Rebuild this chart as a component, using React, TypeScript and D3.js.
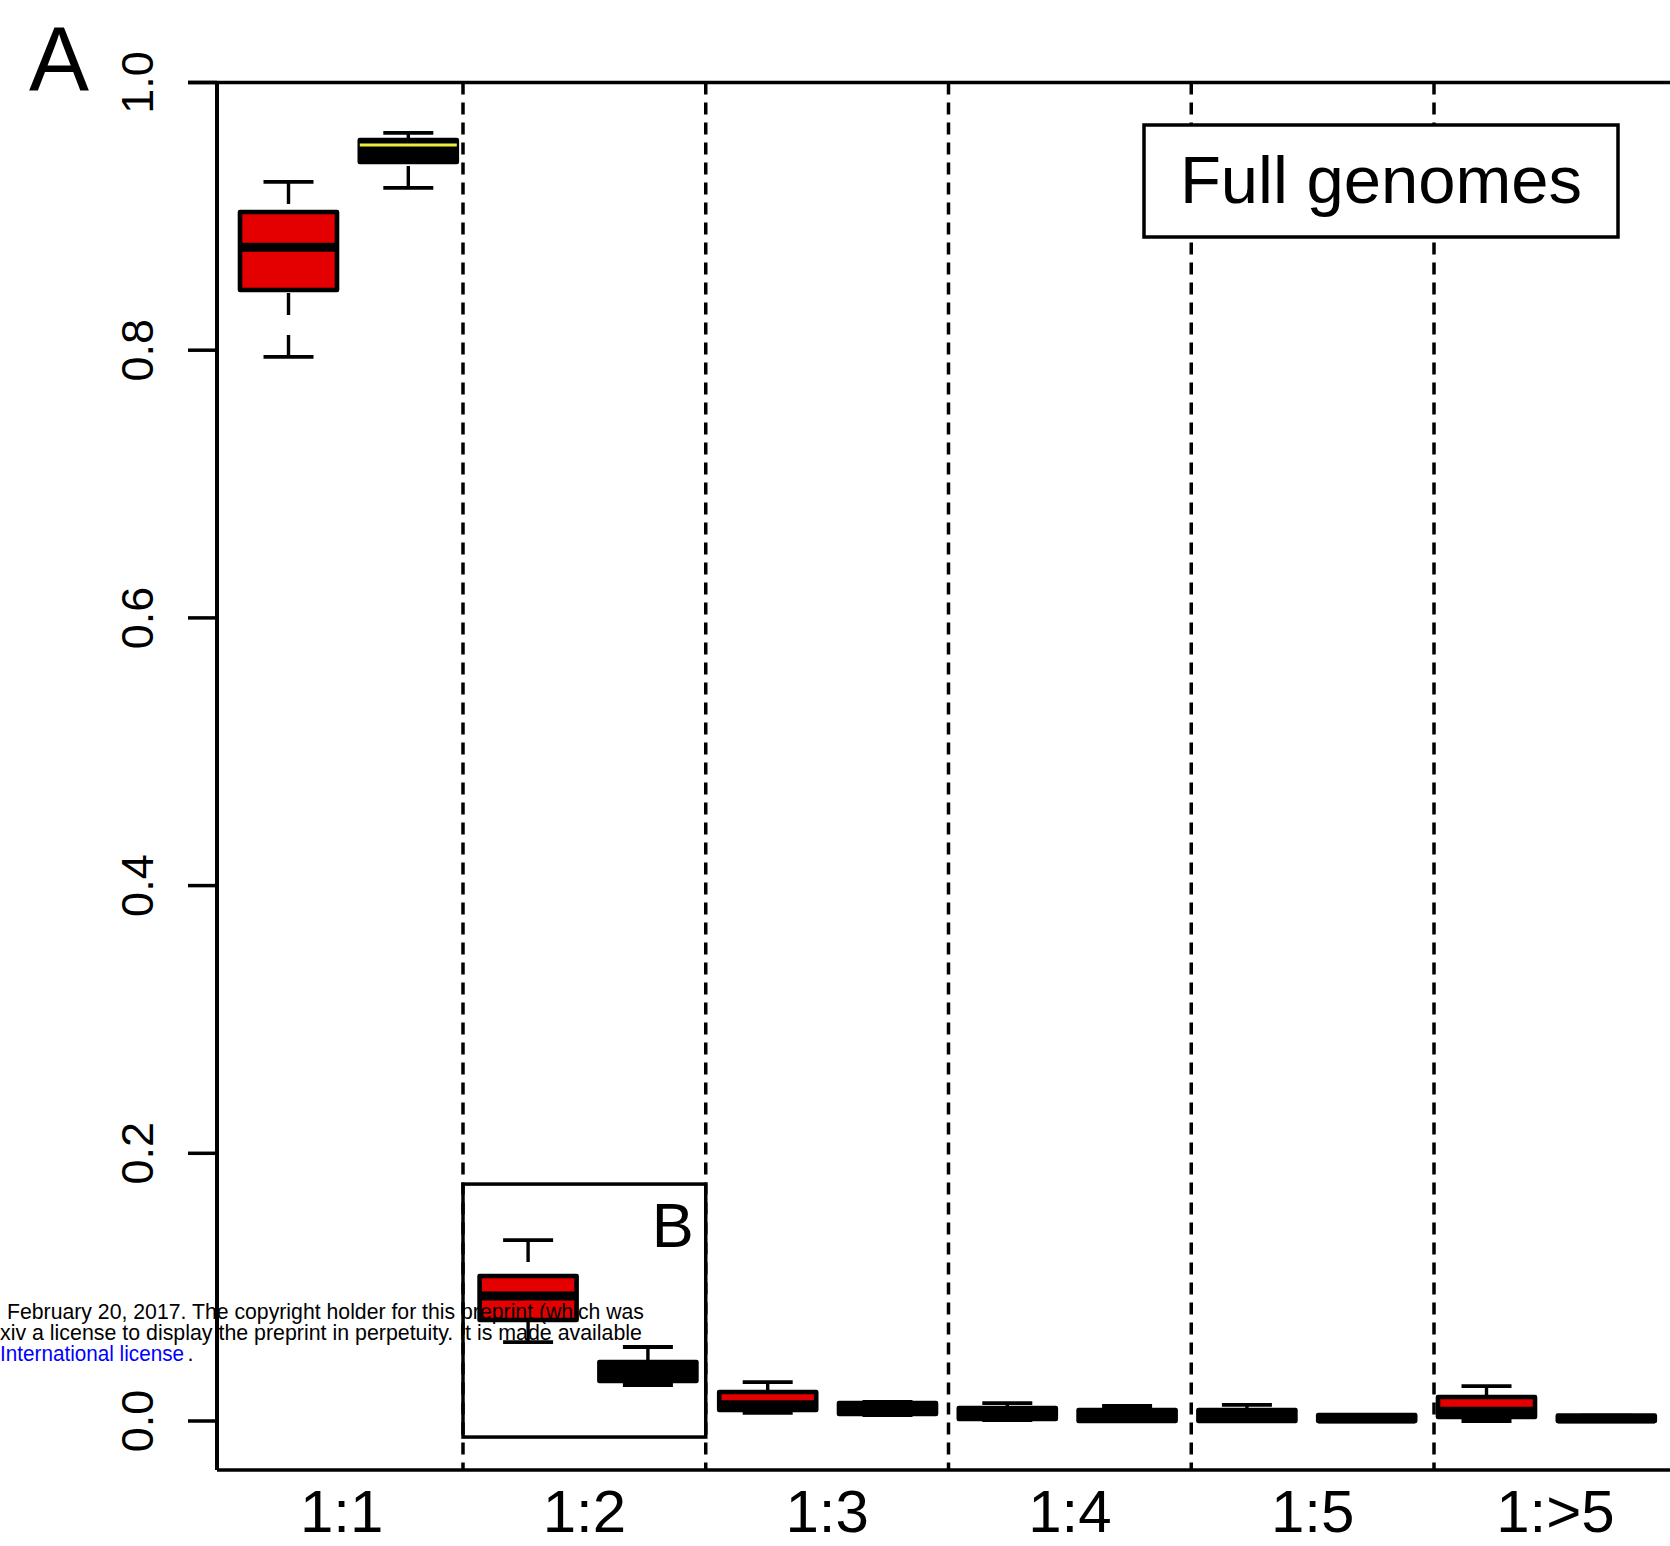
import React from "react";
import * as d3 from "d3";

// ratio classes on the x axis
const categories = ["1:1", "1:2", "1:3", "1:4", "1:5", "1:>5"];

// first box of each pair (red)
const redLow = [0.795, 0.059, 0.006, 0.0007, 0, 0];
const redQ1 = [0.845, 0.0755, 0.0082, 0.0015, 0, 0.003];
const redMedian = [0.877, 0.0934, 0.0122, 0.0052, 0.0037, 0.0072];
const redQ3 = [0.9033, 0.1083, 0.0217, 0.0097, 0.0082, 0.0179];
const redHigh = [0.9257, 0.1352, 0.0291, 0.0134, 0.012, 0.0261];

// second box of each pair (black)
const blackLow = [0.9212, 0.0269, 0.0045, 0, 0, 0];
const blackQ1 = [0.9406, 0.0299, 0.0052, 0, 0, 0];
const blackMedian = [0.9533, 0.0366, 0.009, 0.0037, 0.0015, 0.0015];
const blackQ3 = [0.957, 0.0441, 0.0134, 0.0082, 0.0045, 0.004];
const blackHigh = [0.9623, 0.0553, 0.0142, 0.0112, 0.0045, 0.004];

const yTicks = [0, 0.2, 0.4, 0.6, 0.8, 1.0];

// inset box "B" around the 1:2 class
const insetTop = 0.177;
const insetBottom = -0.012;

const footerLines = [
  "February 20, 2017. The copyright holder for this preprint (which was",
  "xiv a license to display the preprint in perpetuity. It is made available",
];
const footerLink = "International license";

const W = 1670;
const H = 1546;
const FONT = "'Liberation Sans', Arial, Helvetica, sans-serif";
const RED = "#e40000";
const YELLOW = "#eeee36";

export default function App() {
  const y = d3.scaleLinear().domain([0, 1]).range([1421, 82.5]);
  // box positions 1..12 (two boxes per class)
  const xPos = d3.scaleLinear().domain([1, 12]).range([288.5, 1606.3]);
  const band = d3.scaleBand().domain(categories).range([220.25, 1676.75]).padding(0);

  const left = 217;
  const top = y(1);
  const bottom = 1470;
  const boxW = 97;
  const capW = 50;

  const boxes = categories.flatMap((c, i) => [
    { key: c + "r", p: 2 * i + 1, low: redLow[i], q1: redQ1[i], med: redMedian[i], q3: redQ3[i], high: redHigh[i], fill: RED, medCol: "#000", medW: 9 },
    { key: c + "b", p: 2 * i + 2, low: blackLow[i], q1: blackQ1[i], med: blackMedian[i], q3: blackQ3[i], high: blackHigh[i], fill: "#000", medCol: i === 0 ? YELLOW : "#000", medW: i === 0 ? 3 : 9 },
  ]);

  return (
    <div style={{ position: "absolute", left: 0, top: 0 }}>
      <svg width={W} height={H} style={{ display: "block", background: "#fff" }} fontFamily={FONT}>
        {/* dashed class separators */}
        {categories.slice(1).map((c) => (
          <line key={"sep" + c} x1={band(c)} x2={band(c)} y1={top} y2={bottom}
            stroke="#000" strokeWidth={3.5} strokeDasharray="12 8" />
        ))}

        {/* boxes */}
        {boxes.map((b) => {
          const cx = xPos(b.p);
          return (
            <g key={b.key}>
              <line x1={cx} x2={cx} y1={y(b.high)} y2={y(b.q3)} stroke="#000" strokeWidth={3.4} strokeDasharray="22 20" />
              <line x1={cx} x2={cx} y1={y(b.low)} y2={y(b.q1)} stroke="#000" strokeWidth={3.4} strokeDasharray="22 20" />
              <line x1={cx - capW / 2} x2={cx + capW / 2} y1={y(b.high)} y2={y(b.high)} stroke="#000" strokeWidth={3.8} />
              <line x1={cx - capW / 2} x2={cx + capW / 2} y1={y(b.low)} y2={y(b.low)} stroke="#000" strokeWidth={3.8} />
              <rect x={cx - boxW / 2} width={boxW} y={y(b.q3)} height={Math.max(0.5, y(b.q1) - y(b.q3))}
                fill={b.fill} stroke="#000" strokeWidth={4.6} strokeLinejoin="round" />
              <line x1={cx - boxW / 2} x2={cx + boxW / 2} y1={y(b.med)} y2={y(b.med)} stroke={b.medCol} strokeWidth={b.medW} />
            </g>
          );
        })}

        {/* inset B box */}
        <rect x={band("1:2")} width={band.bandwidth()} y={y(insetTop)} height={y(insetBottom) - y(insetTop)}
          fill="none" stroke="#000" strokeWidth={3.5} />
        <text x={(band("1:2") as number) + band.bandwidth() - 12} y={1247} textAnchor="end" fontSize={63}>B</text>

        {/* axes frame */}
        <line x1={188} x2={W} y1={top} y2={top} stroke="#000" strokeWidth={3.5} />
        <line x1={left} x2={W} y1={bottom} y2={bottom} stroke="#000" strokeWidth={3.5} />
        <line x1={left} x2={left} y1={top} y2={bottom} stroke="#000" strokeWidth={4} />

        {/* y ticks and labels */}
        {yTicks.map((t) => (
          <g key={"yt" + t}>
            <line x1={188} x2={left} y1={y(t)} y2={y(t)} stroke="#000" strokeWidth={3.5} />
            <text x={153} y={y(t)} fontSize={45} textAnchor="middle"
              transform={`rotate(-90, 153, ${y(t)})`}>{d3.format(".1f")(t)}</text>
          </g>
        ))}

        {/* x labels */}
        {categories.map((c) => (
          <text key={"xl" + c} x={(band(c) as number) + band.bandwidth() / 2} y={1532}
            textAnchor="middle" fontSize={60}>{c}</text>
        ))}

        {/* legend */}
        <rect x={1144} y={125} width={474} height={112} fill="#fff" stroke="#000" strokeWidth={3.5} />
        <text x={1381} y={203} textAnchor="middle" fontSize={67}>Full genomes</text>

        {/* panel letter */}
        <text x={29} y={90} fontSize={90}>A</text>

        {/* preprint footer overlay */}
        <text x={7} y={1319} fontSize={21.5} fill="#000" textLength={637} lengthAdjust="spacingAndGlyphs">{footerLines[0]}</text>
        <text x={0} y={1340} fontSize={21.5} fill="#000" textLength={642} lengthAdjust="spacingAndGlyphs">{footerLines[1]}</text>
        <text x={0} y={1361} fontSize={21.5} fill="#0000ff" textLength={184} lengthAdjust="spacingAndGlyphs">{footerLink}</text>
        <text x={187.5} y={1361} fontSize={21.5} fill="#000">.</text>
      </svg>
    </div>
  );
}
